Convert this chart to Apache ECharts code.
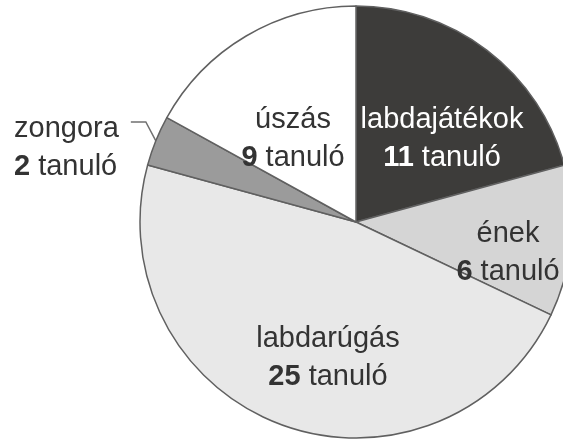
<!DOCTYPE html>
<html>
<head>
<meta charset="utf-8">
<script src="https://cdn.jsdelivr.net/npm/echarts@6/dist/echarts.min.js"></script>
<style>html,body{margin:0;padding:0;background:#fff;}#c{width:563px;height:441px;}</style>
</head>
<body>
<div id="c"></div>
<script>
var categories = ['labdajátékok', 'ének', 'labdarúgás', 'zongora', 'úszás'];
var values = [11, 6, 25, 2, 9];
var unitLabel = 'tanuló';

var colors = ['#3d3c3a', '#d5d5d5', '#e8e8e8', '#9b9b9b', '#ffffff'];
var textColors = ['#ffffff', '#333333', '#333333', '#333333', '#333333'];
// label anchor positions (layout only)
var labelPos = [[442, 139], [508, 253], [328, 358], [14, 148], [293, 139]];
var labelAlign = ['center', 'center', 'center', 'left', 'center'];

var chart = echarts.init(document.getElementById('c'), null, {renderer: 'canvas'});
var data = categories.map(function (c, i) {
  return {
    name: c,
    value: values[i],
    itemStyle: {color: colors[i]},
    label: {
      position: i === 3 ? 'outside' : 'inside',
      color: textColors[i],
      rich: {
        n: {fontSize: 29, color: textColors[i], fontFamily: 'Liberation Sans', lineHeight: 38, align: labelAlign[i]},
        b: {fontSize: 29, fontWeight: 'bold', color: textColors[i], fontFamily: 'Liberation Sans', lineHeight: 38},
        t: {fontSize: 29, color: textColors[i], fontFamily: 'Liberation Sans', lineHeight: 38}
      }
    },
    labelLine: {show: i === 3, length: 12, length2: 14, lineStyle: {color: '#707070', width: 1.5}}
  };
});

chart.setOption({
  animation: false,
  series: [{
    type: 'pie',
    center: [356, 222],
    radius: 216,
    startAngle: 90,
    clockwise: true,
    itemStyle: {borderColor: '#606060', borderWidth: 1.5},
    emphasis: {disabled: true},
    label: {
      show: true,
      fontFamily: 'Liberation Sans',
      fontSize: 29,
      formatter: function (p) {
        return '{n|' + p.name + '}\n{b|' + p.value + '}{t| ' + unitLabel + '}';
      }
    },
    labelLayout: function (params) {
      var i = params.dataIndex;
      var res = {x: labelPos[i][0], y: labelPos[i][1], align: labelAlign[i], verticalAlign: 'middle'};
      if (i === 3 && params.labelLinePoints) {
        var p0 = params.labelLinePoints[0];
        var lineY = labelPos[i][1] - 26;
        res.labelLinePoints = [[p0[0], p0[1]], [p0[0] - 10, lineY], [p0[0] - 25, lineY]];
      }
      return res;
    },
    data: data
  }]
});
</script>
</body>
</html>
